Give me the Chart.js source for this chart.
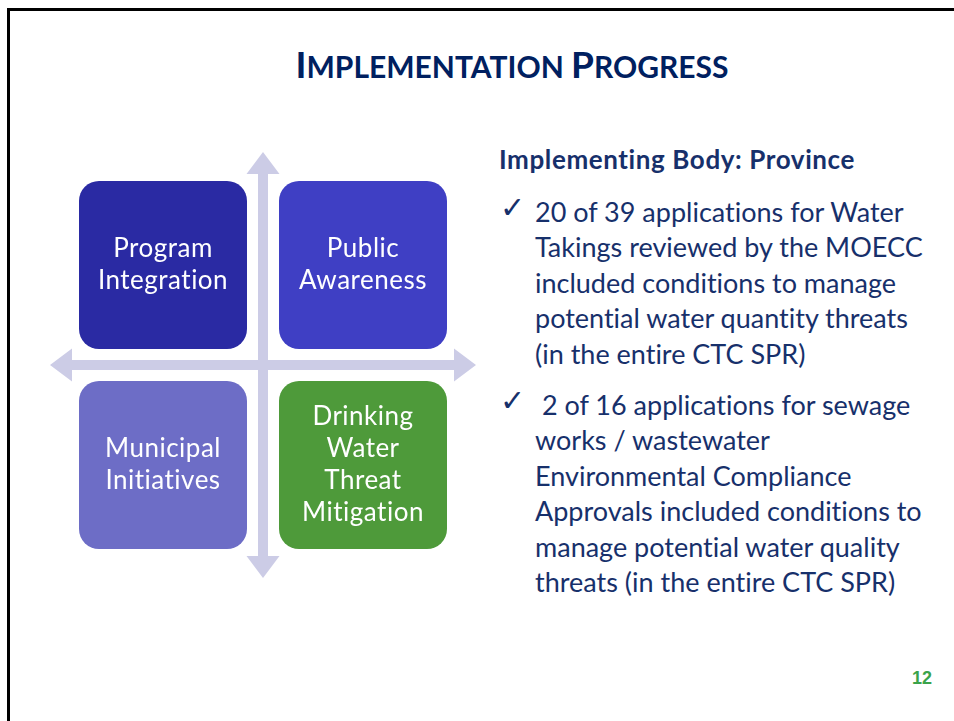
<!DOCTYPE html>
<html>
<head>
<meta charset="utf-8">
<script src="https://cdn.jsdelivr.net/npm/chart.js@4"></script>
<style>
  html, body { margin: 0; padding: 0; background: #fff; }
  body { width: 954px; height: 721px; position: relative; overflow: hidden; font-family: Lato, "Open Sans", sans-serif; font-variant-ligatures: none; }
  .frame { position: absolute; left: 7px; top: 8px; width: 960px; height: 730px; border-left: 3px solid #000; border-top: 3px solid #000; }
  .title { position: absolute; left: 0; width: 1024px; top: 42px; text-align: center; color: #002060; font-weight: 700; line-height: 44px; white-space: nowrap; }
  .title .big { font-size: 37px; }
  .title .small { font-size: 30px; }
  .quad { position: absolute; left: 38px; top: 140px; width: 450px; height: 450px; }
  .heading { position: absolute; left: 499px; top: 146px; font-size: 26px; line-height: 26px; letter-spacing: 0.6px; font-weight: 700; color: #17306b; white-space: nowrap; }
  .bullet { position: absolute; left: 535px; font-size: 27px; line-height: 35.4px; color: #17306b; white-space: nowrap; }
  .check { position: absolute; left: -35px; top: -4px; font-family: "DejaVu Sans"; font-size: 30px; color: #17306b; }
  .page { position: absolute; left: 912px; top: 668px; font-family: "Liberation Sans", Arial, sans-serif; font-weight: 700; font-size: 18px; color: #3aa34a; }
</style>
</head>
<body>
<div class="frame"></div>
<div class="title"><span class="big">I</span><span class="small">MPLEMENTATION </span><span class="big">P</span><span class="small">ROGRESS</span></div>
<div class="quad"><canvas id="quad" width="450" height="450"></canvas></div>
<div class="heading">Implementing Body: Province</div>
<div class="bullet" style="top:194px"><span class="check">✓</span>20 of 39 applications for Water<br>Takings reviewed by the MOECC<br>included conditions to manage<br>potential water quantity threats<br>(in the entire CTC SPR)</div>
<div class="bullet" style="top:387px"><span class="check">✓</span>&nbsp;2 of 16 applications for sewage<br>works / wastewater<br>Environmental Compliance<br>Approvals included conditions to<br>manage potential water quality<br>threats (in the entire CTC SPR)</div>
<div class="page">12</div>
<script>
// quadrant data
const quadLabels = [
  ["Program", "Integration"],
  ["Public", "Awareness"],
  ["Municipal", "Initiatives"],
  ["Drinking", "Water", "Threat", "Mitigation"],
];
const quadX = [-1, 1, -1, 1];
const quadY = [1, 1, -1, -1];
const quadColors = ["#2a2aa3", "#3f3fc4", "#6d6dc6", "#4e9a3a"];
// box half size and axis arrow reach, in axis units
const boxHalf = 0.84;
const arrowReach = 2.13;

// cross with four arrow heads, behind the boxes
const crossPlugin = {
  id: "cross",
  beforeDatasetsDraw: (chart) => {
    const { ctx, scales } = chart;
    const x = scales.x, y = scales.y;
    const cx = x.getPixelForValue(0), cy = y.getPixelForValue(0);
    const left = x.getPixelForValue(-arrowReach), right = x.getPixelForValue(arrowReach);
    const top = y.getPixelForValue(arrowReach), bottom = y.getPixelForValue(-arrowReach);
    const sw = 5, hw = 16.5, hl = 22;
    ctx.save();
    ctx.fillStyle = "#ccccE6";
    // horizontal
    ctx.beginPath();
    ctx.moveTo(left, cy);
    ctx.lineTo(left + hl, cy - hw);
    ctx.lineTo(left + hl, cy - sw);
    ctx.lineTo(right - hl, cy - sw);
    ctx.lineTo(right - hl, cy - hw);
    ctx.lineTo(right, cy);
    ctx.lineTo(right - hl, cy + hw);
    ctx.lineTo(right - hl, cy + sw);
    ctx.lineTo(left + hl, cy + sw);
    ctx.lineTo(left + hl, cy + hw);
    ctx.closePath();
    ctx.fill();
    // vertical
    ctx.beginPath();
    ctx.moveTo(cx, top);
    ctx.lineTo(cx + hw, top + hl);
    ctx.lineTo(cx + sw, top + hl);
    ctx.lineTo(cx + sw, bottom - hl);
    ctx.lineTo(cx + hw, bottom - hl);
    ctx.lineTo(cx, bottom);
    ctx.lineTo(cx - hw, bottom - hl);
    ctx.lineTo(cx - sw, bottom - hl);
    ctx.lineTo(cx - sw, top + hl);
    ctx.lineTo(cx - hw, top + hl);
    ctx.closePath();
    ctx.fill();
    ctx.restore();
  },
};

// rounded boxes with their labels
const boxPlugin = {
  id: "boxes",
  afterDatasetsDraw: (chart) => {
    const { ctx, scales } = chart;
    const meta = chart.getDatasetMeta(0);
    meta.data.forEach((pt, i) => {
      const x0 = scales.x.getPixelForValue(quadX[i] - boxHalf);
      const x1 = scales.x.getPixelForValue(quadX[i] + boxHalf);
      const y0 = scales.y.getPixelForValue(quadY[i] + boxHalf);
      const y1 = scales.y.getPixelForValue(quadY[i] - boxHalf);
      ctx.save();
      ctx.fillStyle = quadColors[i];
      ctx.beginPath();
      ctx.roundRect(x0, y0, x1 - x0, y1 - y0, 20);
      ctx.fill();
      ctx.fillStyle = "#ffffff";
      ctx.font = "26px Lato";
      ctx.letterSpacing = "0.5px";
      ctx.textAlign = "center";
      ctx.textBaseline = "middle";
      const lines = quadLabels[i];
      lines.forEach((line, j) => {
        ctx.fillText(line, pt.x, pt.y + (j - (lines.length - 1) / 2) * 32);
      });
      ctx.restore();
    });
  },
};

new Chart(document.getElementById("quad"), {
  type: "scatter",
  data: {
    labels: quadLabels.map((l) => l.join(" ")),
    datasets: [
      {
        data: quadX.map((x, i) => ({ x: x, y: quadY[i] })),
        pointRadius: 0,
        backgroundColor: quadColors,
      },
    ],
  },
  plugins: [crossPlugin, boxPlugin],
  options: {
    responsive: false,
    animation: false,
    events: [],
    layout: { padding: 0 },
    scales: {
      x: { display: false, min: -2.25, max: 2.25 },
      y: { display: false, min: -2.25, max: 2.25 },
    },
    plugins: {
      legend: { display: false },
      tooltip: { enabled: false },
    },
  },
});
</script>
</body>
</html>
